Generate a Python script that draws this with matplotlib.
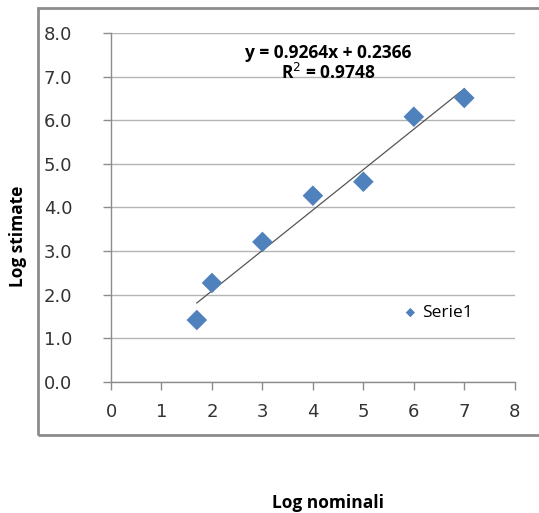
import numpy as np
import matplotlib.pyplot as plt
from matplotlib.patches import Rectangle

# dati
log_nominali = [1.7, 2.0, 3.0, 4.0, 5.0, 6.0, 7.0]
log_stimate = [1.42, 2.27, 3.21, 4.27, 4.59, 6.08, 6.51]
slope = 0.9264
intercept = 0.2366
r2 = 0.9748
x_ticks = [0, 1, 2, 3, 4, 5, 6, 7, 8]
y_ticks = [0.0, 1.0, 2.0, 3.0, 4.0, 5.0, 6.0, 7.0, 8.0]

blue = "#4F81BD"
grey = "#8c8c8c"

fig = plt.figure(figsize=(5.39, 5.13), dpi=100)
# cornice del grafico (stile Excel)
fig.patches.append(
    Rectangle((0.0705, 0.152), 1.0, 0.832, transform=fig.transFigure,
              fill=False, edgecolor=grey, linewidth=2)
)
ax = fig.add_axes([0.206, 0.2554, 0.749, 0.6803])

ax.scatter(log_nominali, log_stimate, marker="D", s=110, color=blue,
           edgecolors="none", zorder=3, label="Serie1")
xl = np.array([min(log_nominali), max(log_nominali)])
ax.plot(xl, slope * xl + intercept, color="#555555", linewidth=0.9, zorder=2)

ax.set_xlim(0, 8)
ax.set_ylim(0, 8)
ax.set_xticks(x_ticks)
ax.set_yticks(y_ticks)
ax.set_yticklabels([f"{v:.1f}" for v in y_ticks])
ax.tick_params(labelsize=13, colors="#333333", length=6, width=1)
ax.tick_params(axis="both", color=grey)
ax.tick_params(axis="x", pad=9)
ax.tick_params(axis="y", pad=22)
ax.grid(axis="y", color="#b4b4b4", linewidth=1)
ax.set_axisbelow(True)
for s in ["top", "right"]:
    ax.spines[s].set_visible(False)
for s in ["left", "bottom"]:
    ax.spines[s].set_color(grey)
    ax.spines[s].set_linewidth(1)

ax.text(4.3, 7.3, f"y = {slope}x + {intercept}\nR$^2$ = {r2}",
        ha="center", va="center", fontsize=12.5, fontweight="bold",
        family="Open Sans", linespacing=1.0)

ax.legend(loc="center left", bbox_to_anchor=(5.45, 1.58),
          bbox_transform=ax.transData, frameon=False, markerscale=0.45,
          handlelength=1.0, handletextpad=0.15,
          prop={"family": "Open Sans", "size": 12.5})

fig.text(0.033, 0.54, "Log stimate", rotation=90, ha="center", va="center",
         fontsize=12.5, fontweight="bold", family="Open Sans")
fig.text(0.608, 0.02, "Log nominali", ha="center", va="center",
         fontsize=12.5, fontweight="bold", family="Open Sans")

fig.savefig("out.png", dpi=100)
